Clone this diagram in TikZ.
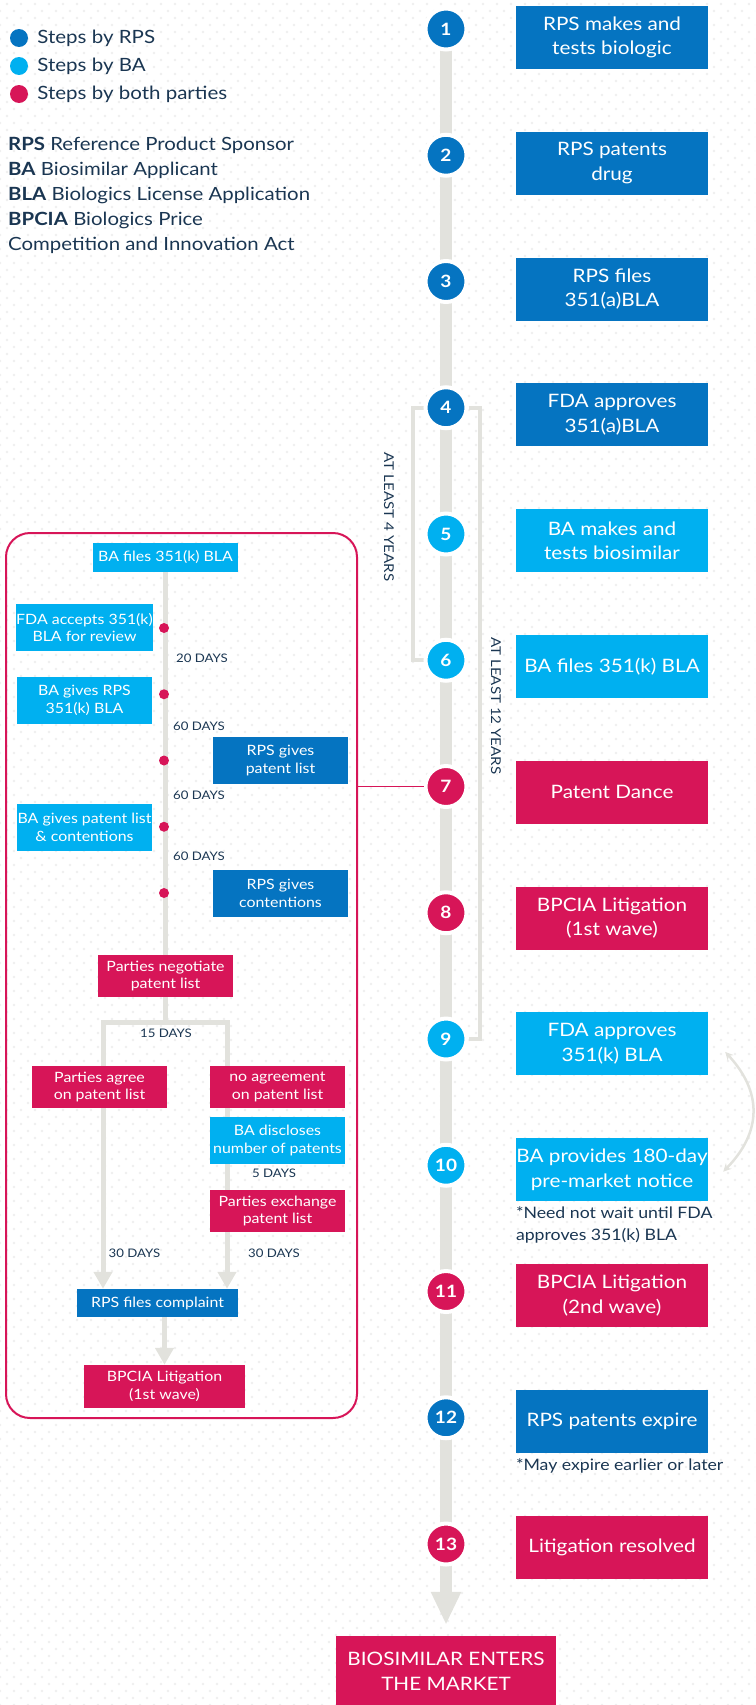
\documentclass[tikz,border=0pt]{standalone}
\usepackage{fontspec}
\setmainfont{Lato}[FakeStretch=1.12]
\usepackage{xcolor}
\usepackage{tikz}
\usetikzlibrary{positioning,calc,arrows.meta,backgrounds,patterns.meta}

\definecolor{rpsblue}{HTML}{0574C1}
\definecolor{bablue}{HTML}{00B0F0}
\definecolor{bothred}{HTML}{D71558}
\definecolor{spinegray}{HTML}{E2E2DD}
\definecolor{ink}{HTML}{1A3652}

\tikzset{
    stepdot/.style={circle, draw=white, line width=4pt, minimum size=41pt, inner sep=0pt,
        text=white, font=\fontsize{17}{17}\selectfont\bfseries},
    stepbox/.style={minimum width=192pt, minimum height=63pt, inner sep=0pt, align=center,
        text=white, font=\fontsize{18.5}{24.7}\selectfont},
    flowbox/.style={minimum width=135pt, minimum height=42pt, inner sep=0pt, align=center,
        text=white, font=\fontsize{14.2}{17.7}\selectfont},
    days/.style={inner sep=0pt, text=ink, font=\fontsize{11.8}{12}\selectfont},
    legtext/.style={inner sep=0pt, text=ink, font=\fontsize{18.3}{21}\selectfont},
    note/.style={inner sep=0pt, align=left, text=ink, font=\fontsize{15.8}{22}\selectfont},
    legdot/.style={circle, minimum size=18pt, inner sep=0pt},
    flowline/.style={spinegray, line width=5pt, line cap=rect},
    flowarrow/.style={spinegray, line width=5pt, -{Triangle[width=18pt,length=17pt]}},
    bracket/.style={spinegray, line width=4pt},
    years/.style={inner sep=0pt, rotate=-90, text=ink, font=\fontsize{13.5}{14}\selectfont}
}

\begin{document}
\begin{tikzpicture}[x=1pt, y=-1pt]
    \useasboundingbox (0,0) rectangle (755,1705);

    % Leyenda
    \node[legdot, fill=rpsblue] (k1) at (19,38) {};
    \node[legdot, fill=bablue] (k2) at (19,66) {};
    \node[legdot, fill=bothred] (k3) at (19,94) {};
    \node[legtext, right=9pt of k1] (t1) {Steps by RPS};
    \node[legtext, right=9pt of k2] (t2) {Steps by BA};
    \node[legtext, right=9pt of k3] (t3) {Steps by both parties};
    \node[legtext, anchor=north west, align=left, font=\fontsize{18.2}{25}\selectfont] (abbr) at (8,137)
        {\textbf{RPS} Reference Product Sponsor\\\textbf{BA} Biosimilar Applicant\\
         \textbf{BLA} Biologics License Application\\\textbf{BPCIA} Biologics Price\\
         Competition and Innovation Act};

    % Pasos de la linea de tiempo
    \foreach \col/\txt [count=\i] in {
        rpsblue/{RPS makes and\\tests biologic},
        rpsblue/{RPS patents\\drug},
        rpsblue/{RPS files\\351(a)BLA},
        rpsblue/{FDA approves\\351(a)BLA},
        bablue/{BA makes and\\tests biosimilar},
        bablue/{BA files 351(k) BLA},
        bothred/{Patent Dance},
        bothred/{BPCIA Litigation\\(1st wave)},
        bablue/{FDA approves\\351(k) BLA},
        bablue/{BA provides 180-day\\pre-market notice},
        bothred/{BPCIA Litigation\\(2nd wave)},
        rpsblue/{RPS patents expire},
        bothred/{Litigation resolved}} {
        \node[stepdot, fill=\col] (s\i) at (446, {29+126.25*(\i-1)}) {\i};  % circulo numerado
        \node[stepbox, fill=\col] (b\i) at (612, {37.5+125.8*(\i-1)}) {\txt};  % caja del paso
    }

    \node[stepbox, fill=bothred, minimum width=220pt, minimum height=70pt] (market) at (446,1671)
        {BIOSIMILAR ENTERS\\THE MARKET};

    % Notas
    \node[note, anchor=north west] (n10) at ([yshift=-5pt]b10.south west)
        {*Need not wait until FDA\\approves 351(k) BLA};
    \node[note, anchor=north west] (n12) at ([yshift=-5pt]b12.south west)
        {*May expire earlier or later};

    % Plazos
    \node[years] (four) at (389,517) {AT LEAST 4 YEARS};
    \node[years] (twelve) at (496,706) {AT LEAST 12 YEARS};

    % Recuadro del patent dance
    \node[draw=bothred, line width=2pt, rounded corners=24pt, minimum width=351pt,
        minimum height=885pt] (dance) at (181.5,975.5) {};
    \draw[bothred, line width=1.8pt] (s7 -| dance.east) -- (s7.west);

    \node[flowbox, fill=bablue, minimum width=145pt, minimum height=29pt] (kfile) at (165.5,557.5)
        {BA files 351(k) BLA};
    \foreach \i in {1,...,5}
        \node[circle, fill=bothred, minimum size=10pt, inner sep=0pt] (d\i) at (164, {628+66.25*(\i-1)}) {};

    \node[flowbox, fill=bablue, minimum height=47pt] (accept) at (84.5,627.5) {FDA accepts 351(k)\\BLA for review};
    \node[flowbox, fill=bablue, minimum height=47pt] (give) at (84.5,700.5) {BA gives RPS\\351(k) BLA};
    \node[flowbox, fill=rpsblue, minimum height=47pt] (plist) at (280.5,760.5) {RPS gives\\patent list};
    \node[flowbox, fill=bablue, minimum height=47pt] (bplist) at (84.5,827.5) {BA gives patent list\\\& contentions};
    \node[flowbox, fill=rpsblue, minimum height=47pt] (conts) at (280.5,893.5) {RPS gives\\contentions};

    \node[days, anchor=west] (g1) at (176,658) {20 DAYS};
    \node[days, anchor=west] (g2) at (173,726) {60 DAYS};
    \node[days, anchor=west] (g3) at (173,795) {60 DAYS};
    \node[days, anchor=west] (g4) at (173,856) {60 DAYS};

    \node[flowbox, fill=bothred] (neg) at (165.5,976) {Parties negotiate\\patent list};
    \node[flowbox, fill=bothred] (agree) at (99.5,1087) {Parties agree\\on patent list};
    \node[flowbox, fill=bothred] (noagr) at (277.5,1087) {no agreement\\on patent list};
    \node[flowbox, fill=bablue, minimum height=47pt] (discl) at (277.5,1140.5) {BA discloses\\number of patents};
    \node[flowbox, fill=bothred] (exch) at (277.5,1211) {Parties exchange\\patent list};
    \node[flowbox, fill=rpsblue, minimum width=161pt, minimum height=28pt] (cmpl) at (157.5,1303) {RPS files complaint};
    \node[flowbox, fill=bothred, minimum width=161pt, minimum height=43pt] (lit1) at (164.5,1386.5) {BPCIA Litigation\\(1st wave)};

    \node[days] (g5) at (166,1033) {15 DAYS};
    \node[days] (g6) at (274,1173) {5 DAYS};
    \node[days] (g7) at (134.5,1253) {30 DAYS};
    \node[days] (g8) at (274,1253) {30 DAYS};

    \coordinate (lb) at (103,1022);
    \coordinate (rb) at (227,1022);
    \coordinate (c9) at ($(b9.east)+(17,8)$);
    \coordinate (c10) at ($(b10.east)+(15,2)$);
    \draw[spinegray, line width=2.5pt, {Stealth[length=8pt,width=8pt]}-{Stealth[length=8pt,width=8pt]}]
        (c9) .. controls +(37,40) and +(39,-40) .. (c10);

    % Fondo: puntos, eje y corchetes
    \begin{scope}[on background layer]
        \fill[pattern={Dots[distance=9.9pt, angle=45, radius=1.6pt]}, pattern color=black!6]
            (0,0) rectangle (755,1705);
        \draw[spinegray, line width=12pt] (s1.center) -- (s13.center);
        \draw[spinegray, line width=12pt, -{Triangle[width=28pt,length=33pt]}]
            (s13.center) -- ([yshift=11pt]market.north);
        \draw[bracket] (s4.west) -- ++(-11,0) |- (s6.west);
        \draw[bracket] (s4.east) -- ++(11,0) |- (s9.east);

        \draw[flowline] (kfile.south) -- (neg.north);
        \draw[flowline] (neg.south) -- (neg.south |- lb);
        \draw[flowline] (lb) -- (rb);
        \draw[flowarrow] (lb) -- (lb |- cmpl.north);
        \draw[flowarrow] (rb) -- (rb |- cmpl.north);
        \draw[flowarrow] (lit1.north |- cmpl.south) -- (lit1.north);
    \end{scope}
\end{tikzpicture}
\end{document}
